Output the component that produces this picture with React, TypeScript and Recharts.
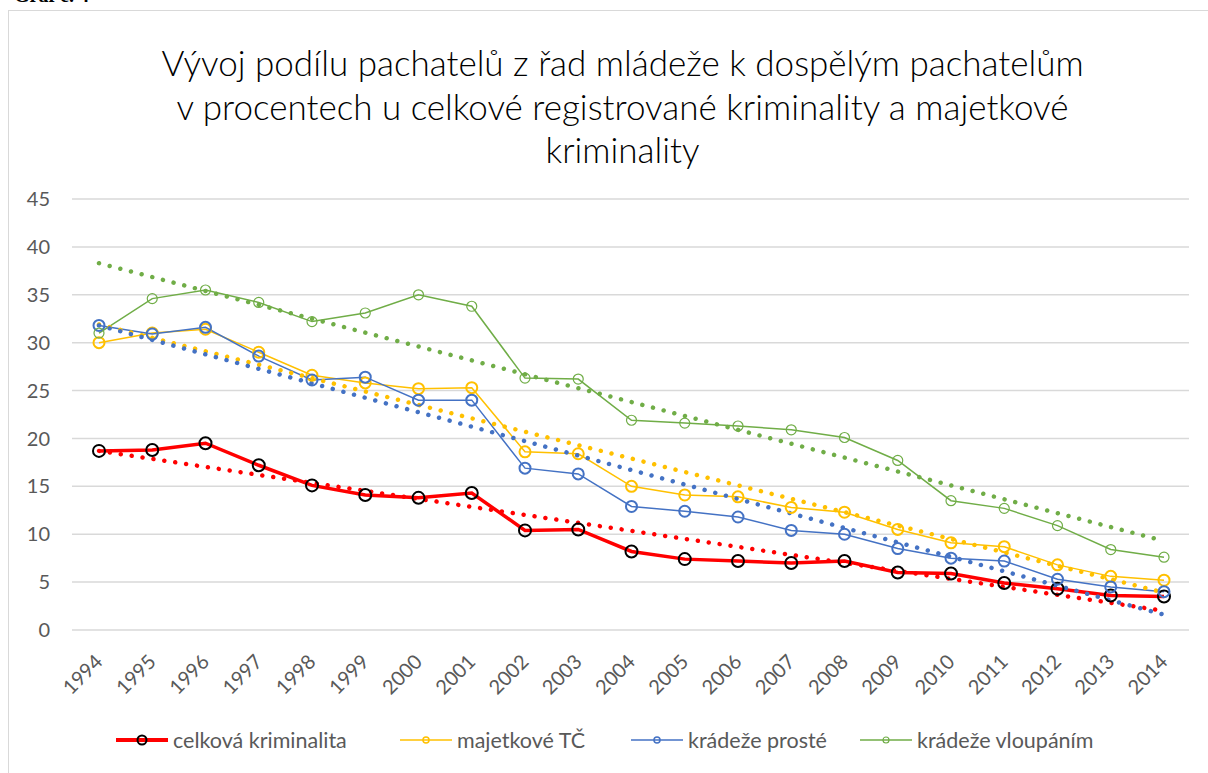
import React from 'react';
import { LineChart, Line, XAxis, YAxis, CartesianGrid } from 'recharts';

const years = ['1994', '1995', '1996', '1997', '1998', '1999', '2000', '2001', '2002', '2003', '2004',
  '2005', '2006', '2007', '2008', '2009', '2010', '2011', '2012', '2013', '2014'];

const celkova = [18.7, 18.8, 19.5, 17.2, 15.1, 14.1, 13.8, 14.3, 10.4, 10.5, 8.2, 7.4, 7.2, 7.0, 7.2, 6.0, 5.9, 4.9, 4.3, 3.6, 3.5];
const majetkove = [30.0, 31.0, 31.4, 29.0, 26.6, 25.8, 25.2, 25.3, 18.6, 18.4, 15.0, 14.1, 13.9, 12.8, 12.3, 10.5, 9.1, 8.7, 6.8, 5.6, 5.2];
const proste = [31.8, 30.9, 31.6, 28.6, 26.1, 26.4, 24.0, 24.0, 16.9, 16.3, 12.9, 12.4, 11.8, 10.4, 10.0, 8.5, 7.5, 7.2, 5.3, 4.5, 4.0];
const vloupanim = [31.0, 34.6, 35.5, 34.2, 32.2, 33.1, 35.0, 33.8, 26.3, 26.2, 21.9, 21.6, 21.3, 20.9, 20.1, 17.7, 13.5, 12.7, 10.9, 8.4, 7.6];

// linear trendlines at 1994 and 2014
const trendCelkova = [18.7, 2.0];
const trendMajetkove = [31.9, 3.9];
const trendProste = [31.8, 1.6];
const trendVloupanim = [38.3, 9.3];

const yTicks = [0, 5, 10, 15, 20, 25, 30, 35, 40, 45];

const last = years.length - 1;
const ends = (t: number[], i: number) => (i === 0 ? t[0] : i === last ? t[1] : null);

const data = years.map((year, i) => ({
  year,
  celkova: celkova[i],
  majetkove: majetkove[i],
  proste: proste[i],
  vloupanim: vloupanim[i],
  tCelkova: ends(trendCelkova, i),
  tMajetkove: ends(trendMajetkove, i),
  tProste: ends(trendProste, i),
  tVloupanim: ends(trendVloupanim, i),
}));

const RED = '#FF0000';
const YELLOW = '#FFC000';
const BLUE = '#4472C4';
const GREEN = '#70AD47';
const FONT = 'Lato, "Open Sans", sans-serif';

const YearTick = ({ x, y, payload }: any) => (
  <text
    x={x + 5}
    y={y + 33}
    transform={`rotate(-45 ${x + 5} ${y + 33})`}
    textAnchor="end"
    fill="#595959"
    fontSize={20}
    fontFamily={FONT}
  >
    {payload.value}
  </text>
);

const legendItems = [
  { label: 'celková kriminalita', color: RED, marker: '#000', width: 4, r: 4.5, sw: 2, left: 116 },
  { label: 'majetkové TČ', color: YELLOW, marker: YELLOW, width: 1.5, r: 3, sw: 1.5, left: 400 },
  { label: 'krádeže prosté', color: BLUE, marker: BLUE, width: 1.5, r: 3, sw: 1.5, left: 631 },
  { label: 'krádeže vloupáním', color: GREEN, marker: GREEN, width: 1.5, r: 3, sw: 1.2, left: 860 },
];

const dots = { strokeDasharray: '0.01 11', strokeLinecap: 'round' as const, strokeWidth: 4.5 };

export default function App() {
  return (
    <div style={{ position: 'fixed', left: 0, top: 0, width: 1208, height: 773, background: '#fff', overflow: 'hidden', fontFamily: FONT }}>
      <div style={{ position: 'absolute', left: 14, top: -16, fontFamily: '"Liberation Serif", serif', fontWeight: 'bold', fontSize: 20 }}>
        Graf č. 4
      </div>
      <div style={{ position: 'absolute', left: 8, top: 10, width: 1300, height: 900, border: '1px solid #D9D9D9' }} />
      <div
        style={{
          position: 'absolute', left: 0, top: 41, width: 1245, textAlign: 'center',
          fontSize: 35, lineHeight: '43.5px', color: '#000', fontWeight: 300,
        }}
      >
        Vývoj podílu pachatelů z řad mládeže k dospělým pachatelům<br />
        v procentech u celkové registrované kriminality a majetkové<br />
        kriminality
      </div>
      <div style={{ position: 'absolute', left: 0, top: 0 }}>
        <LineChart width={1208} height={773} data={data} margin={{ top: 199, right: 19, bottom: 73, left: 0 }}>
          <CartesianGrid vertical={false} stroke="#D9D9D9" strokeWidth={1.5} />
          <XAxis
            dataKey="year"
            axisLine={false}
            tickLine={false}
            tickSize={0}
            tickMargin={0}
            interval={0}
            height={70}
            padding={{ left: 27, right: 25 }}
            tick={<YearTick />}
          />
          <YAxis
            domain={[0, 45]}
            ticks={yTicks}
            width={72}
            axisLine={false}
            tickLine={false}
            tickSize={0}
            tickMargin={22}
            tick={{ fill: '#595959', fontSize: 20, fontFamily: FONT }}
          />
          <Line dataKey="celkova" stroke={RED} strokeWidth={3.5} isAnimationActive={false}
            dot={{ r: 6, stroke: '#000', strokeWidth: 2, fill: 'none' }} />
          <Line dataKey="majetkove" stroke={YELLOW} strokeWidth={1.5} isAnimationActive={false}
            dot={{ r: 5.5, stroke: YELLOW, strokeWidth: 2, fill: 'none' }} />
          <Line dataKey="proste" stroke={BLUE} strokeWidth={1.5} isAnimationActive={false}
            dot={{ r: 5.5, stroke: BLUE, strokeWidth: 2, fill: 'none' }} />
          <Line dataKey="vloupanim" stroke={GREEN} strokeWidth={1.5} isAnimationActive={false}
            dot={{ r: 5, stroke: GREEN, strokeWidth: 1.2, fill: 'none' }} />
          <Line dataKey="tCelkova" stroke={RED} connectNulls dot={false} isAnimationActive={false} {...dots} />
          <Line dataKey="tMajetkove" stroke={YELLOW} connectNulls dot={false} isAnimationActive={false} {...dots} />
          <Line dataKey="tProste" stroke={BLUE} connectNulls dot={false} isAnimationActive={false} {...dots} />
          <Line dataKey="tVloupanim" stroke={GREEN} connectNulls dot={false} isAnimationActive={false} {...dots} />
        </LineChart>
      </div>
      {legendItems.map((it) => (
        <div
          key={it.label}
          style={{ position: 'absolute', left: it.left, top: 728, height: 24, display: 'flex', alignItems: 'center', fontSize: 21.5, color: '#595959', whiteSpace: 'nowrap' }}
        >
          <svg width={52} height={20} style={{ marginRight: 5 }}>
            <line x1={0} y1={10} x2={52} y2={10} stroke={it.color} strokeWidth={it.width} />
            <circle cx={26} cy={10} r={it.r} stroke={it.marker} strokeWidth={it.sw} fill="none" />
          </svg>
          {it.label}
        </div>
      ))}
    </div>
  );
}
